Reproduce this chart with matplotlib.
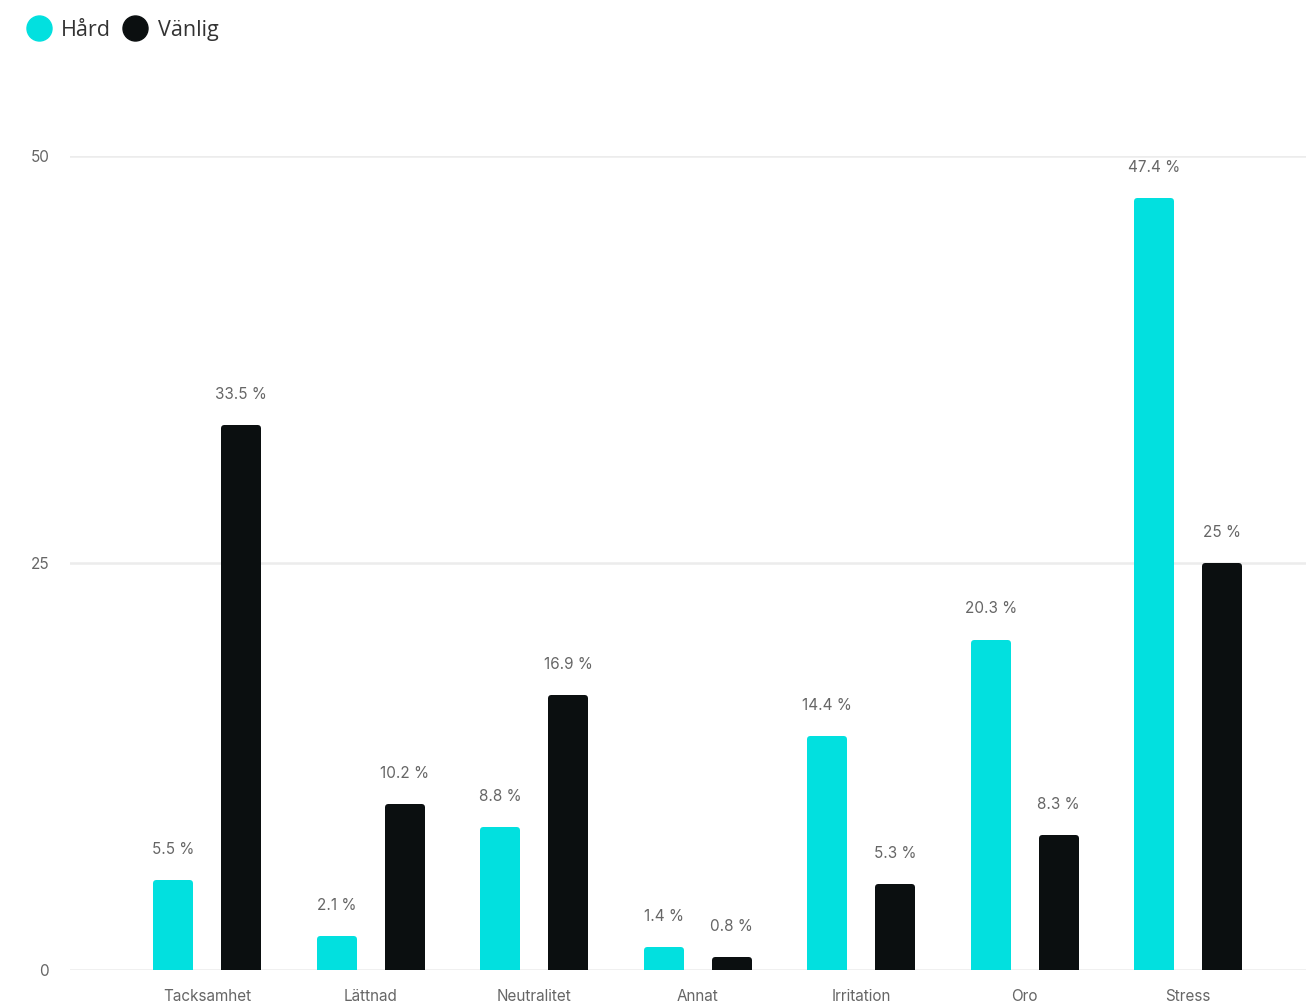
import matplotlib.pyplot as plt
from matplotlib.lines import Line2D
import numpy as np

plt.rcParams['font.family'] = ['Inter', 'DejaVu Sans']

# data
categories = ['Tacksamhet', 'Lättnad', 'Neutralitet', 'Annat', 'Irritation', 'Oro', 'Stress']
hard = [5.5, 2.1, 8.8, 1.4, 14.4, 20.3, 47.4]
vanlig = [33.5, 10.2, 16.9, 0.8, 5.3, 8.3, 25]
series_names = ['Hård', 'Vänlig']
colors = ['#02E0DF', '#0B0F10']

W, H = 1306, 1005
fig = plt.figure(figsize=(W / 100, H / 100), dpi=100)
ax = fig.add_axes([70 / W, (H - 970) / H, 1 - 70 / W, (970 - 156) / H])

x = np.arange(len(categories))
ax.set_xlim(-0.838, 6.72)
ax.set_ylim(0, 50)

# px -> data conversions for the rounded-corner trick
px_x = (6.72 + 0.838) / (W - 70)
px_y = 50 / (970 - 156)
r = 3  # corner radius in px
lw = 2 * r * 72 / 100

bw = 40 * px_x
off = 34 * px_x
for vals, col, sgn in [(hard, colors[0], -1), (vanlig, colors[1], 1)]:
    bars = ax.bar(x + sgn * off, np.array(vals) - r * px_y, width=bw - 2 * r * px_x,
                  color=col, edgecolor=col, linewidth=lw, zorder=3)
    for b in bars:
        b.set_joinstyle('round')
    for xi, v in zip(x + sgn * off, vals):
        ax.annotate(f'{v:g} %', (xi, v), xytext=(0, 22), textcoords='offset points',
                    ha='center', va='center', fontsize=11, color='#666666')

ax.set_yticks([0, 25, 50])
ax.grid(axis='y', color='#ECECEC', linewidth=1.8, zorder=0)
ax.set_xticks(x)
ax.set_xticklabels(categories)
ax.tick_params(axis='y', length=0, pad=15, labelsize=11, labelcolor='#666666')
ax.tick_params(axis='x', length=0, pad=14, labelsize=11, labelcolor='#666666')
for s in ax.spines.values():
    s.set_visible(False)

handles = [Line2D([], [], linestyle='none', marker='o', markersize=18, color=c) for c in colors]
fig.legend(handles, series_names, loc='upper left', bbox_to_anchor=(15 / W, 1 - 9 / H),
           ncol=2, frameon=False, handletextpad=0.45, columnspacing=0.5,
           borderpad=0, handlelength=1.2, prop={'family': ['Open Sans', 'DejaVu Sans'], 'size': 15.5})
for t in fig.legends[0].get_texts():
    t.set_color('#333333')

fig.savefig('out.png', dpi=100)
